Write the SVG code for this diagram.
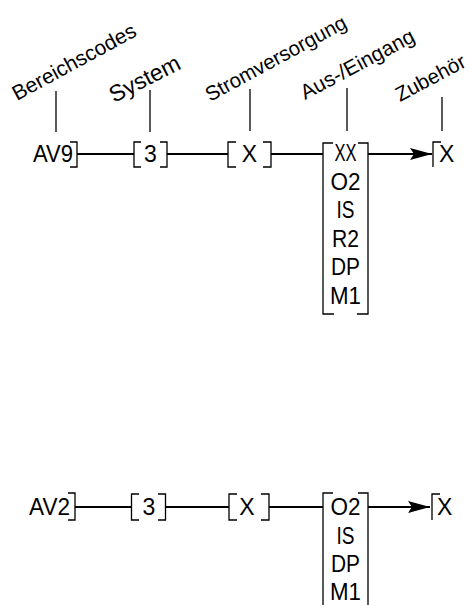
<svg xmlns="http://www.w3.org/2000/svg" width="476" height="605" viewBox="0 0 476 605">
<style>
text{font-family:"Liberation Sans",Arial,Helvetica,sans-serif;fill:#000}
.v{font-size:23px}
.c{text-anchor:middle}
.lab{font-size:21px}
.br{fill:none;stroke:#000;stroke-width:1.3}
.ld{stroke:#000;stroke-width:1.3}
.cn{stroke:#000;stroke-width:2;fill:none}
</style>
<defs>
<marker id="ah" viewBox="0 0 22 12" refX="22" refY="6" markerWidth="22" markerHeight="12" markerUnits="userSpaceOnUse" orient="auto">
<path d="M0,0 L22,6 L0,12 L4,6 Z" fill="#000"/>
</marker>
</defs>
<rect width="476" height="605" fill="#fff"/>
<g id="labels">
<g id="lab-bereich"><line class="ld" x1="56" y1="91" x2="56" y2="132"/><text class="lab" transform="translate(17,101) rotate(-28.5)">Bereichscodes</text></g>
<g id="lab-system"><line class="ld" x1="150" y1="90" x2="150" y2="132"/><text class="lab" style="font-size:23px" transform="translate(114,103) rotate(-27)">System</text></g>
<g id="lab-strom"><line class="ld" x1="250" y1="89" x2="250" y2="131"/><text class="lab" style="font-size:20.5px" transform="translate(210,102) rotate(-28.5)">Stromversorgung</text></g>
<g id="lab-aus"><line class="ld" x1="347" y1="88" x2="347" y2="131"/><text class="lab" transform="translate(305,100) rotate(-28)">Aus-/Eingang</text></g>
<g id="lab-zub"><line class="ld" x1="442" y1="97" x2="442" y2="131"/><text class="lab" style="font-size:20.5px" transform="translate(400,102) rotate(-28)">Zubehör</text></g>
</g>
<g id="connectors">
<line class="cn" x1="77" y1="154" x2="134" y2="154"/>
<line class="cn" x1="167" y1="154" x2="228" y2="154"/>
<line class="cn" x1="271" y1="154" x2="323" y2="154"/>
<line class="cn" x1="368" y1="154" x2="432" y2="154" marker-end="url(#ah)"/>
<line class="cn" x1="75" y1="507" x2="131" y2="507"/>
<line class="cn" x1="166" y1="507" x2="229" y2="507"/>
<line class="cn" x1="269" y1="507" x2="323" y2="507"/>
<line class="cn" x1="368" y1="507" x2="430" y2="507" marker-end="url(#ah)"/>
</g>
<g id="r1-av9"><text class="v" x="33" y="162" textLength="40" lengthAdjust="spacingAndGlyphs">AV9</text><path class="br" d="M70,142H77V167H70"/></g>
<g id="r1-sys"><path class="br" d="M141,142H134V167H141M160,142H167V167H160"/><text class="v c" x="150.5" y="162">3</text></g>
<g id="r1-strom"><path class="br" d="M236,142H228V167H236M263,142H271V167H263"/><text class="v c" x="249.5" y="162">X</text></g>
<g id="r1-io"><path class="br" d="M333,143H323V314H334M358,143H368V314H357"/>
<text class="v c" x="345.5" y="161" textLength="22" lengthAdjust="spacingAndGlyphs">XX</text>
<text class="v c" x="345.5" y="189.5" textLength="30" lengthAdjust="spacingAndGlyphs">O2</text>
<text class="v c" x="345.5" y="218" textLength="18" lengthAdjust="spacingAndGlyphs">IS</text>
<text class="v c" x="345.5" y="246.5" textLength="27" lengthAdjust="spacingAndGlyphs">R2</text>
<text class="v c" x="345.5" y="275" textLength="29" lengthAdjust="spacingAndGlyphs">DP</text>
<text class="v c" x="345.5" y="303.5" textLength="31" lengthAdjust="spacingAndGlyphs">M1</text></g>
<g id="r1-zub"><path class="br" d="M441,142H433V167"/><text class="v" x="439" y="162">X</text></g>
<g id="r2-av2"><text class="v" x="29" y="515" textLength="41" lengthAdjust="spacingAndGlyphs">AV2</text><path class="br" d="M68,493H75V520H68"/></g>
<g id="r2-sys"><path class="br" d="M139,494H131.5V520H139M158,494H165.5V520H158"/><text class="v c" x="149" y="515">3</text></g>
<g id="r2-strom"><path class="br" d="M237,494H229V520H237M261,494H269V520H261"/><text class="v c" x="247" y="515">X</text></g>
<g id="r2-io"><path class="br" d="M333,493H323V610M358,493H368V610"/>
<text class="v c" x="345.5" y="515" textLength="30" lengthAdjust="spacingAndGlyphs">O2</text>
<text class="v c" x="345.5" y="543.5" textLength="18" lengthAdjust="spacingAndGlyphs">IS</text>
<text class="v c" x="345.5" y="572" textLength="29" lengthAdjust="spacingAndGlyphs">DP</text>
<text class="v c" x="345.5" y="600" textLength="31" lengthAdjust="spacingAndGlyphs">M1</text></g>
<g id="r2-zub"><path class="br" d="M440,494H432V520"/><text class="v" x="437" y="515">X</text></g>
</svg>
